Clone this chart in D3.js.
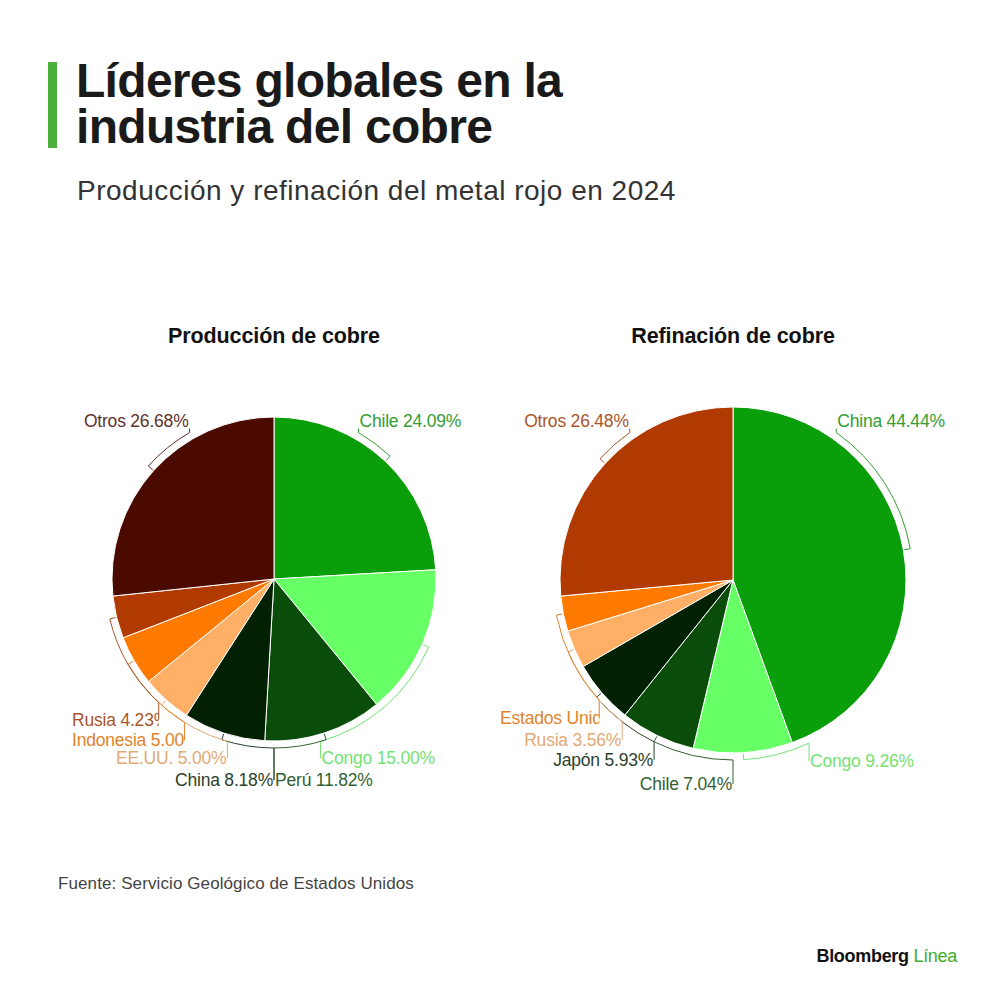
<!DOCTYPE html>
<html>
<head>
<meta charset="utf-8">
<script src="https://cdn.jsdelivr.net/npm/d3@7"></script>
<style>
  body { margin: 0; background: #fff; }
  svg { display: block; font-family: "Liberation Sans", Arial, sans-serif; }
</style>
</head>
<body>
<div id="chart"></div>
<script>
// Producción de cobre 2024 (% del total mundial)
const prodCountries = ['Chile', 'Congo', 'Perú', 'China', 'EE.UU.', 'Indonesia', 'Rusia', 'Otros'];
const prodShares = [24.09, 15.00, 11.82, 8.18, 5.00, 5.00, 4.23, 26.68];

// Refinación de cobre 2024 (% del total mundial)
const refCountries = ['China', 'Congo', 'Chile', 'Japón', 'Rusia', 'Estados Unidos', 'Otros'];
const refShares = [44.44, 9.26, 7.04, 5.93, 3.56, 3.29, 26.48];

// colours go by slice order, not by country
const palette = ['#0b9e0b', '#66ff66', '#0a4d0a', '#022002', '#ffb066', '#ff7a00', '#b03a00', '#4a0a00'];

// label placement: angle (deg from top, clockwise) where each leader leaves the ring,
// and how far below the ring the label baseline sits (negative = above)
const prodLabelAngle = [30, 164, 180, 180, 196, 212, 223, 330];
const prodLabelDrop = [-6, 19, 34, 34, 19, 20, 19, -6];
const refLabelAngle = [35, 155, 180, 206, 218, 228, 325];
const refLabelDrop = [-6, 20, 26, 20, 20, 20, -6];

const width = 1000, height = 1000;

const svg = d3.select('#chart').append('svg')
    .attr('width', width)
    .attr('height', height);

// header
svg.append('rect')
    .attr('x', 48).attr('y', 62)
    .attr('width', 9).attr('height', 86)
    .attr('fill', '#4cb03c');

const title = svg.append('text')
    .attr('x', 76)
    .attr('font-size', 48)
    .attr('font-weight', 'bold')
    .attr('letter-spacing', -0.7)
    .attr('fill', '#1a1a1a');
title.append('tspan').attr('x', 76).attr('y', 97).text('Líderes globales en la');
title.append('tspan').attr('x', 76).attr('y', 143).text('industria del cobre');

svg.append('text')
    .attr('x', 77).attr('y', 200)
    .attr('font-size', 28)
    .attr('letter-spacing', 0.5)
    .attr('fill', '#333')
    .text('Producción y refinación del metal rojo en 2024');

svg.append('text')
    .attr('x', 58).attr('y', 889)
    .attr('font-size', 17)
    .attr('letter-spacing', 0.1)
    .attr('fill', '#444')
    .text('Fuente: Servicio Geológico de Estados Unidos');

const logo = svg.append('text')
    .attr('x', 957).attr('y', 962)
    .attr('text-anchor', 'end')
    .attr('font-size', 18)
    .attr('font-weight', 'bold')
    .attr('letter-spacing', -0.3);
logo.append('tspan').attr('fill', '#111').text('Bloomberg ');
logo.append('tspan').attr('fill', '#3fae2a').attr('font-weight', 'normal').text('Línea');

const defs = svg.append('defs');
const rad = d => d * Math.PI / 180;

function drawPie(cfg) {
  const {names, values, angles, drops, cx, cy, r, minX, heading, id} = cfg;

  svg.append('text')
      .attr('x', cx).attr('y', 343)
      .attr('text-anchor', 'middle')
      .attr('font-size', 21.5)
      .attr('font-weight', 'bold')
      .attr('letter-spacing', -0.1)
      .attr('fill', '#111')
      .text(heading);

  const g = svg.append('g').attr('transform', `translate(${cx},${cy})`);

  const pie = d3.pie().sort(null).value(d => d.value);
  const arc = d3.arc().innerRadius(0).outerRadius(r);

  const rows = names.map((n, i) => ({
    name: n, value: values[i], color: palette[i],
    labelColor: d3.interpolateRgb(palette[i], '#999')(0.28),
    angle: angles[i], drop: drops[i]
  }));
  const slices = pie(rows);

  g.selectAll('.slice')
      .data(slices)
    .join('path')
      .attr('class', 'slice')
      .attr('d', arc)
      .attr('fill', d => d.data.color)
      .attr('stroke', '#fff')
      .attr('stroke-width', 1);

  const R = r + 7;
  slices.forEach((d, i) => {
    const mid = (d.startAngle + d.endAngle) / 2;          // radians from top
    const end = rad(d.data.angle);
    const ax = R * Math.sin(end), ay = -R * Math.cos(end);
    const ly = ay + d.data.drop;
    const p = d3.path();
    p.moveTo((r + 1) * Math.sin(mid), -(r + 1) * Math.cos(mid));
    p.lineTo(R * Math.sin(mid), -R * Math.cos(mid));
    p.arc(0, 0, R, mid - Math.PI / 2, end - Math.PI / 2, end < mid);
    p.lineTo(ax, d.data.drop > 0 ? ly - 2 : ly + 2);
    g.append('path')
        .attr('d', p.toString())
        .attr('fill', 'none')
        .attr('stroke', d.data.labelColor)
        .attr('stroke-width', 1);

    const isStart = mid < Math.PI;
    const label = g.append('text')
        .attr('y', d.data.drop > 0 ? ly + 4 : ly)
        .attr('font-size', 17.5)
        .attr('letter-spacing', -0.2)
        .attr('fill', d.data.labelColor)
        .text(`${d.data.name} ${d3.format('.2f')(d.data.value)}%`);
    if (isStart) {
      label.attr('x', ax + 1).attr('text-anchor', 'start');
    } else {
      label.attr('x', ax - 1).attr('text-anchor', 'end');
      const w = label.node().getComputedTextLength();
      // labels that run past the panel edge are pinned to it and cut at the leader
      if (cx + ax - 1 - w < minX) {
        const cid = `clip-${id}-${i}`;
        defs.append('clipPath').attr('id', cid)
          .append('rect')
            .attr('x', minX - cx).attr('y', ly - 20)
            .attr('width', ax - (minX - cx)).attr('height', 30);
        label.attr('x', minX - cx).attr('text-anchor', 'start')
            .attr('clip-path', `url(#${cid})`);
      }
    }
  });
}

drawPie({
  id: 'prod', names: prodCountries, values: prodShares,
  angles: prodLabelAngle, drops: prodLabelDrop,
  cx: 274, cy: 579, r: 162, minX: 72, heading: 'Producción de cobre'
});

drawPie({
  id: 'ref', names: refCountries, values: refShares,
  angles: refLabelAngle, drops: refLabelDrop,
  cx: 733, cy: 580, r: 173, minX: 500, heading: 'Refinación de cobre'
});
</script>
</body>
</html>
